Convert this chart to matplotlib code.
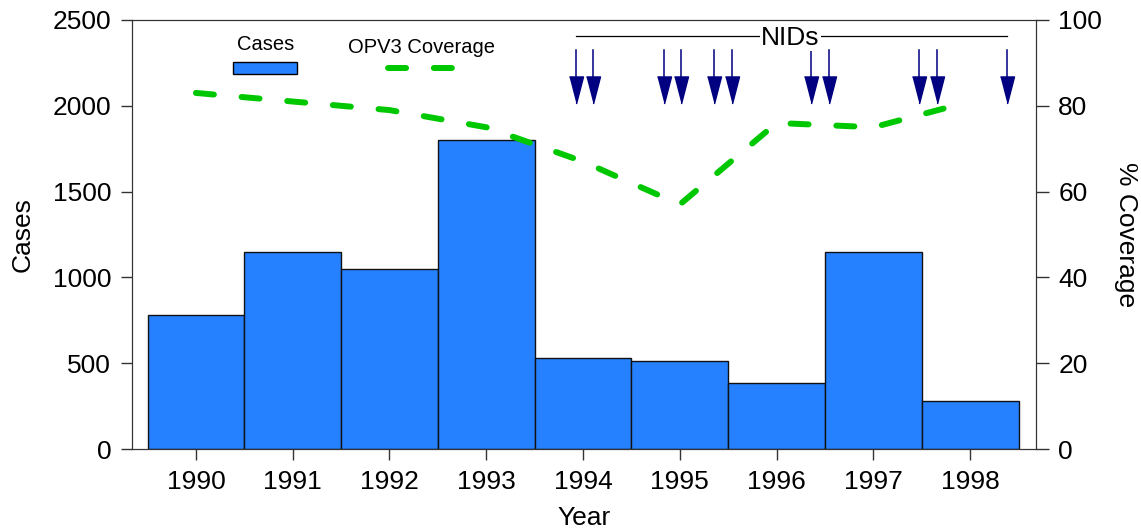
import matplotlib
matplotlib.use("Agg")
from matplotlib import pyplot as plt
from matplotlib.lines import Line2D
from matplotlib.patches import Rectangle

plt.rcParams['font.family'] = ['Liberation Sans', 'DejaVu Sans']
plt.rcParams['lines.scale_dashes'] = False

years = [1990, 1991, 1992, 1993, 1994, 1995, 1996, 1997, 1998]
cases = [780, 1150, 1050, 1800, 530, 515, 385, 1150, 280]
coverage = [83, 81, 79, 75, 67, 57, 76, 75, 81]
# NID rounds (fraction of year)
nid_dates = [1993.93, 1994.10, 1994.84, 1995.01, 1995.35, 1995.54,
             1996.36, 1996.54, 1997.47, 1997.66, 1998.38]

bar_color = '#2581ff'
line_color = '#00c800'
arrow_color = '#000080'

fig = plt.figure(figsize=(11.41, 5.29), dpi=100)
ax = fig.add_axes([0.1157, 0.1512, 0.7923, 0.811])

ax.bar(years, cases, width=1.0, color=bar_color, edgecolor='#111111', linewidth=1.0)
ax.set_xlim(1989.34, 1998.68)
ax.set_ylim(0, 2500)
ax.set_xticks(years)
ax.set_yticks([0, 500, 1000, 1500, 2000, 2500])
ax.tick_params(direction='out', length=8, width=1, labelsize=19, pad=7, color='#333333')
ax.set_ylabel("Cases", fontsize=19, labelpad=13)
ax.set_xlabel("Year", fontsize=19, labelpad=9)
for s in ax.spines.values():
    s.set_color('#333333')

ax2 = ax.twinx()
ax2.set_ylim(0, 100)
ax2.set_yticks([0, 20, 40, 60, 80, 100])
ax2.tick_params(direction='out', length=9, width=1, labelsize=19, pad=7, color='#333333')
ax2.set_ylabel("% Coverage", fontsize=19, rotation=270, labelpad=26)
for s in ax2.spines.values():
    s.set_color('#333333')

ln, = ax2.plot(years, coverage, color=line_color, linewidth=4.3,
               dash_capstyle='round', solid_capstyle='round')
ln.set_dashes((13, 20))

# NIDs arrows
tr = ax.get_xaxis_transform()
for d in nid_dates:
    ax.plot([d, d], [0.93, 0.84], color=arrow_color, linewidth=1.1, transform=tr)
tri = [(-7, 13.5), (7, 13.5), (0, -13.5)]
ax.plot(nid_dates, [0.837] * len(nid_dates), linestyle='none', marker=tri,
        markersize=19.5, color=arrow_color, transform=tr)
ax.plot([nid_dates[0], nid_dates[-1]], [0.963, 0.963], color='black', linewidth=0.9, transform=tr)
ax.text(1996.14, 0.958, "NIDs", transform=tr, ha='center', va='center', fontsize=19,
        bbox=dict(facecolor='white', edgecolor='none', pad=1))

# legend
ax.text(0.148, 0.942, "Cases", transform=ax.transAxes, ha='center', va='center', fontsize=14.5)
ax.add_patch(Rectangle((0.1117, 0.874), 0.0708, 0.028, transform=ax.transAxes,
                       facecolor=bar_color, edgecolor='black', linewidth=1))
ax.text(0.320, 0.935, "OPV3 Coverage", transform=ax.transAxes, ha='center', va='center', fontsize=14.5)
leg_line = Line2D([0.283, 0.357], [0.888, 0.888], transform=ax.transAxes, color=line_color,
                  linewidth=4.3, dash_capstyle='round')
leg_line.set_dashes((13, 20))
ax.add_line(leg_line)

fig.savefig("out.png", dpi=100)
